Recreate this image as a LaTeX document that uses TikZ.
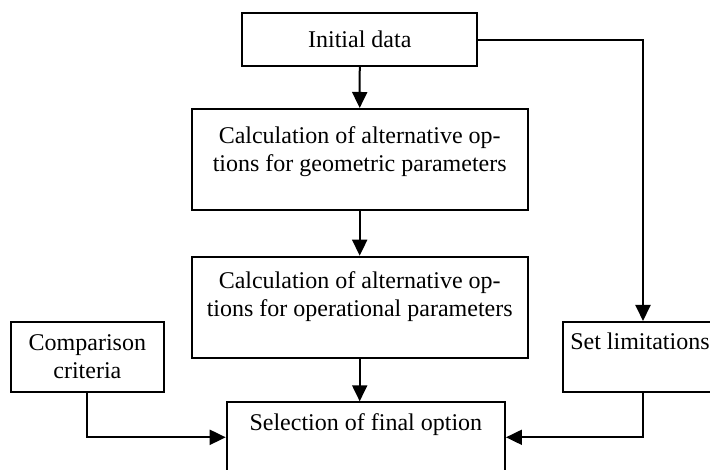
\documentclass[tikz,border=0pt]{standalone}
\usepackage{fontspec}
\setmainfont{Liberation Serif}
\usetikzlibrary{arrows.meta,positioning}
\begin{document}
\begin{tikzpicture}[x=0.75pt,y=-0.75pt,
  every node/.style={font=\fontsize{18}{21}\selectfont},
  box/.style={draw, line width=1.5pt, inner sep=0pt, align=center},
  txt/.style={inner sep=0pt, align=center},
  conn/.style={line width=1.5pt, -{Triangle[width=11.25pt,length=12pt]}},
  plain/.style={line width=1.5pt}]
\clip (0,0) rectangle (710,470);
\fill[white] (0,0) rectangle (710,470);
\node[box, minimum width=176.6pt, minimum height=39.2pt] (init) at (359.75,39.6) {Initial data};
\node[box, minimum width=252pt, minimum height=75.75pt] (b1) at (359.7,159.5) {};
\node[txt, anchor=north] (b1t) at ([yshift=-13.4pt]b1.north) {Calculation of alternative op-\\tions for geometric parameters};
\node[box, minimum width=252pt, minimum height=76pt] (b2) at (359.7,307.35) {};
\node[txt, anchor=north] (b2t) at ([yshift=-11.4pt]b2.north) {Calculation of alternative op-\\tions for operational parameters};
\node[box, minimum width=115pt, minimum height=52.3pt] (comp) at (87.35,356.85) {Comparison\\criteria};
\node[box, minimum width=120pt, minimum height=52.3pt] (lim) at (643,356.85) {};
\node[txt, anchor=north west] (limt) at ([xshift=6pt,yshift=-8.7pt]lim.north west) {Set limitations};
\node[box, minimum width=208.7pt, minimum height=52.5pt] (sel) at (365.85,437.3) {};
\node[txt, anchor=north] (selt) at ([yshift=-9pt]sel.north) {Selection of final option};
\draw[conn] (init.south) -- (b1.north);
\draw[conn] (b1.south) -- (b2.north);
\draw[conn] (b2.south) -- (b2.south |- sel.north);
\draw[conn] (init.east) -| (lim.north);
\draw[conn] (comp.south) |- (sel.west);
\draw[conn] (lim.south) |- (sel.east);
\end{tikzpicture}
\end{document}
